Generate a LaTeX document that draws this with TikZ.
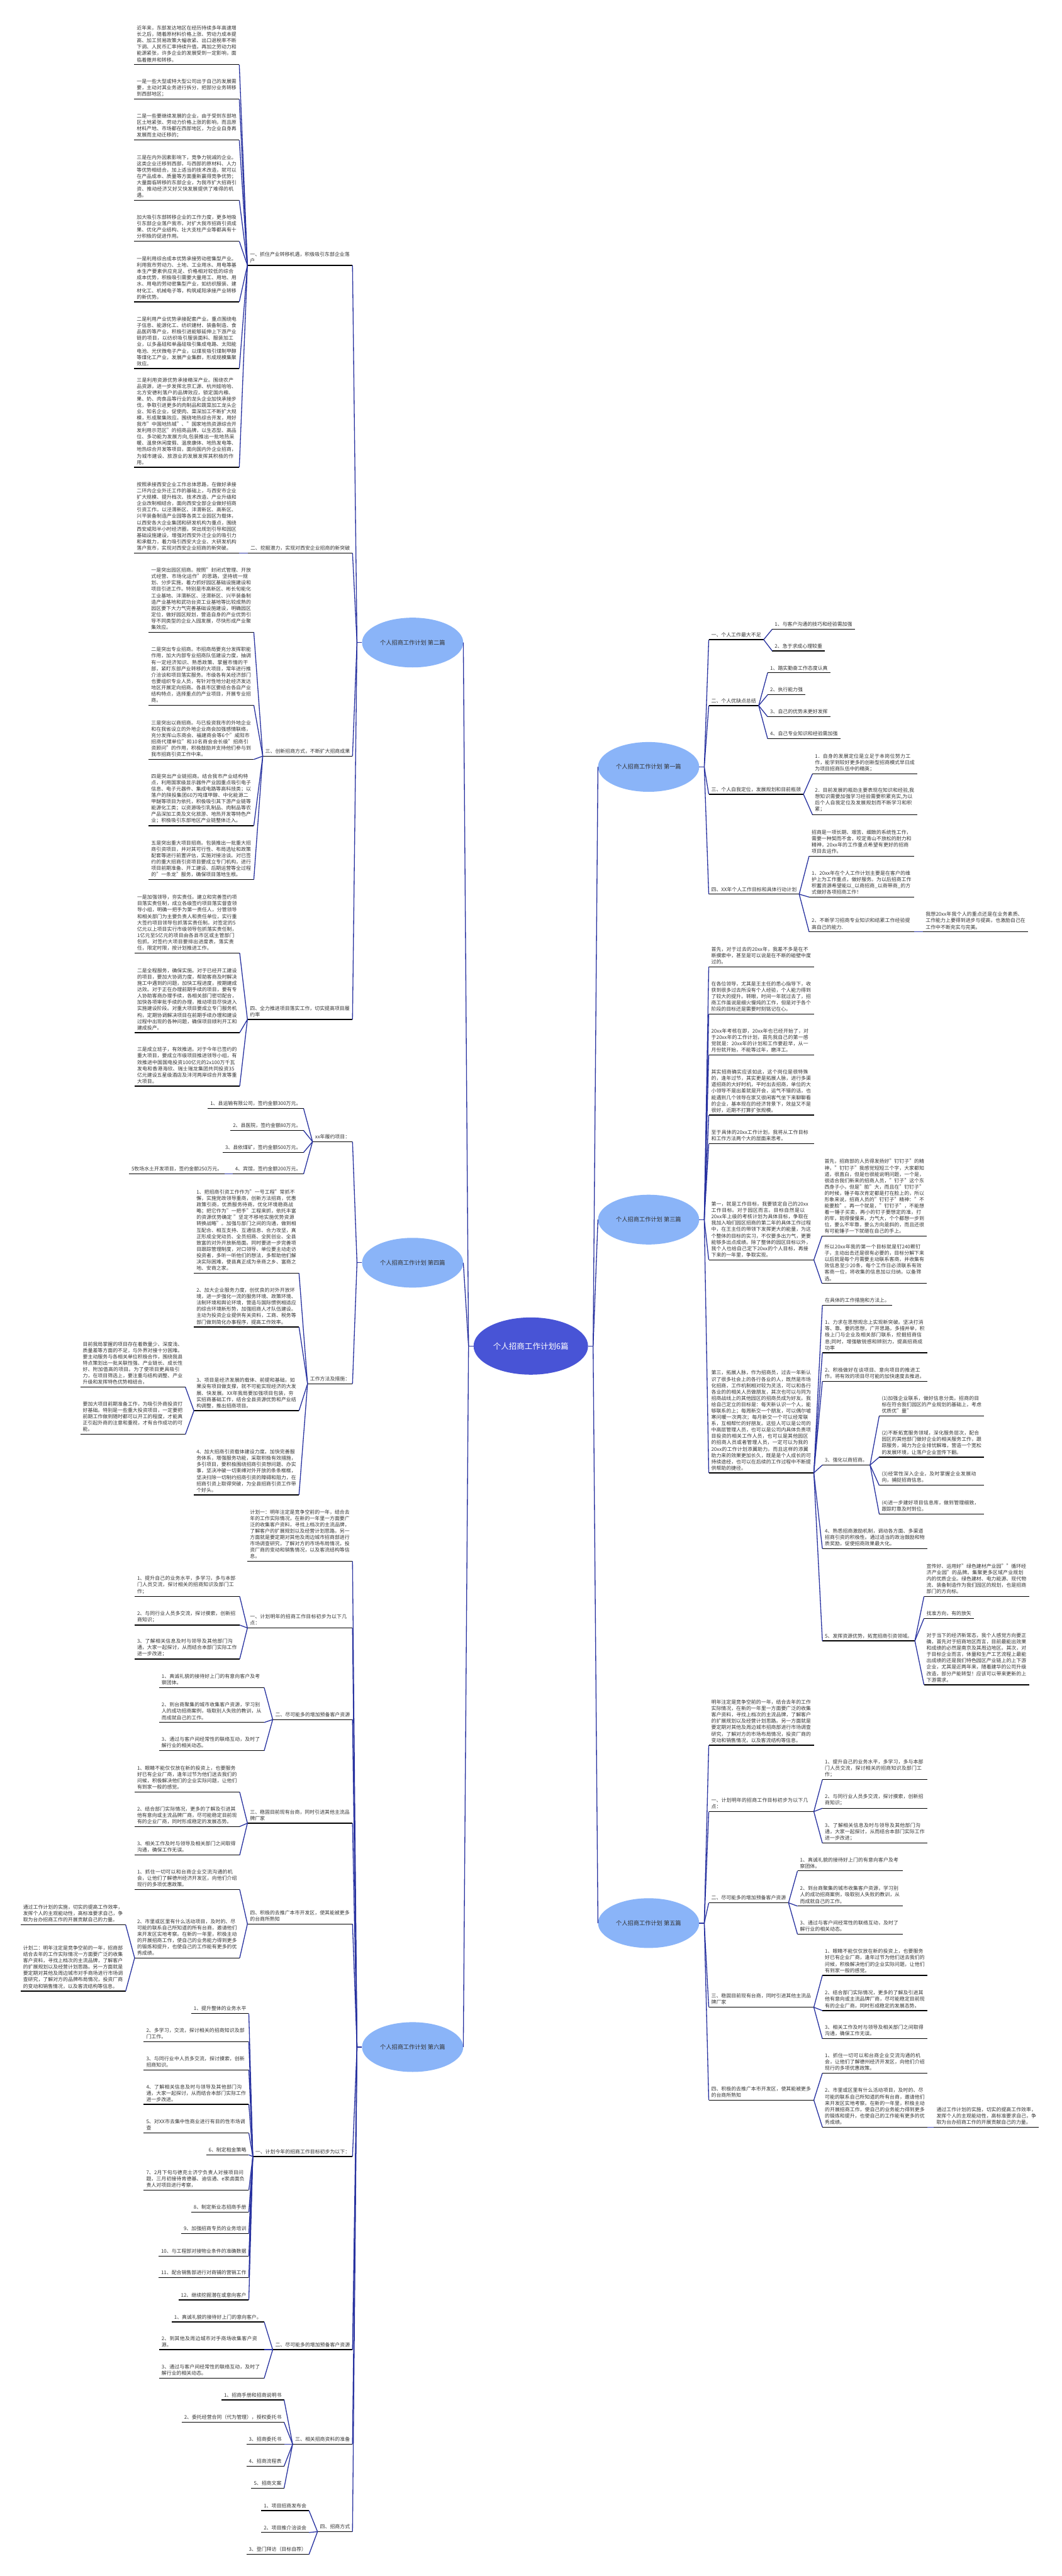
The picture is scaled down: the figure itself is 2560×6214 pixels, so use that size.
\documentclass[tikz,border=0pt]{standalone}
\usepackage{fontspec}
\setmainfont{Noto Sans CJK SC}
\XeTeXlinebreaklocale "zh"
\XeTeXlinebreakskip=0pt plus 1pt
\usetikzlibrary{shapes.geometric}

\definecolor{rootblue}{HTML}{4854D6}
\definecolor{partblue}{HTML}{8AB4F8}
\definecolor{linkblue}{HTML}{2832A0}
\definecolor{textgray}{HTML}{333333}

\tikzset{
  uline/.style={draw=black, line width=2pt},
  link/.style={draw=linkblue, line width=2pt},
  root/.style={ellipse, fill=rootblue, text=white, inner sep=0pt,
    minimum width=276pt, minimum height=138pt, font=\fontsize{19}{22}\selectfont},
  part/.style={ellipse, fill=partblue, text=textgray, inner sep=0pt,
    minimum width=244pt, minimum height=120pt, font=\fontsize{14}{17}\selectfont},
  tag/.style={inner xsep=6pt, inner ysep=6pt, text=textgray,
    font=\fontsize{12}{15.3}\selectfont,
    append after command={(\tikzlastnode.south west) edge[uline] (\tikzlastnode.south east)}},
  note/.style={tag, text width=241pt, align=left},
  lt/.style={anchor=south east},
  rt/.style={anchor=south west}
}

\begin{document}
\begin{tikzpicture}[x=1pt,y=-1pt]
\useasboundingbox (0,0) rectangle (2560,6214);
\fill[white] (0,0) rectangle (2560,6214);

% centre and the six parts
\node[root] (root) at (1280,3247) {个人招商工作计划6篇};
\node[part] (p2) at (995,1550) {个人招商工作计划 第二篇};
\node[part] (p4) at (995,3046) {个人招商工作计划 第四篇};
\node[part] (p6) at (995,4938) {个人招商工作计划 第六篇};
\node[part] (p1) at (1564,1850) {个人招商工作计划 第一篇};
\node[part] (p3) at (1564,2942) {个人招商工作计划 第三篇};
\node[part] (p5) at (1564,4639) {个人招商工作计划 第五篇};

% ---------- 第二篇 ----------
\node[note,lt] (p2a) at (850,640) {一、抓住产业转移机遇，积极吸引东部企业落户};
\node[note,lt] (p2a1) at (577,156) {近年来，东部发达地区在经历持续多年高速增长之后，随着原材料价格上涨、劳动力成本提高、加工贸易政策大幅收紧、出口退税率不断下调、人民币汇率持续升值，再加之劳动力和能源紧张，许多企业的发展受到一定影响，面临着撤并和转移。};
\node[note,lt] (p2a2) at (577,239) {一是一些大型或特大型公司出于自己的发展需要，主动对其业务进行拆分，把部分业务转移到西部地区；};
\node[note,lt] (p2a3) at (577,338) {二是一些要继续发展的企业，由于受到东部地区土地紧张、劳动力价格上涨的影响，而且原材料产地、市场都在西部地区，为企业自身再发展而主动迁移的；};
\node[note,lt] (p2a4) at (577,483) {三是在内外因素影响下，竞争力锐减的企业。这类企业迁移到西部，与西部的原材料、人力等优势相结合，加上适当的技术改造，就可以在产品成本、质量等方面重新赢得竞争优势；大量面临转移的东部企业，为我市扩大招商引资、推动经济又好又快发展提供了难得的机遇。};
\node[note,lt] (p2a5) at (577,582) {加大吸引东部转移企业的工作力度，更多地吸引东部企业落户我市，对扩大我市招商引资成果、优化产业结构、壮大支柱产业等都具有十分积极的促进作用。};
\node[note,lt] (p2a6) at (577,728) {一是利用综合成本优势承接劳动密集型产业。利用我市劳动力、土地、工业用水、用电等基本生产要素供应充足、价格相对较低的综合成本优势，积极吸引需要大量用工、用地、用水、用电的劳动密集型产业，如纺织服装、建材化工、机械电子等，构筑咸阳承接产业转移的新优势。};
\node[note,lt] (p2a7) at (577,889) {二是利用产业优势承接配套产业。重点围绕电子信息、能源化工、纺织建材、装备制造、食品医药等产业，积极引进能够延伸上下游产业链的项目，以纺织吸引服装面料、服装加工业，以多晶硅和单晶硅吸引集成电路、太阳能电池、光伏微电子产业，以煤炭吸引煤制甲醇等煤化工产业，发展产业集群，形成规模集聚效应。};
\node[note,lt] (p2a8) at (577,1127) {三是利用资源优势承接精深产业。围绕农产品资源，进一步发挥北京汇源、杭州娃哈哈、北方安德利落户的品牌效应，锁定国内粮、果、奶、肉食品等行业的龙头企业加快承接步伐，争取引进更多的肉制品和蔬菜加工龙头企业、知名企业，促使肉、菜深加工不断扩大规模，形成聚集效应。围绕地热综合开发，用好我市"中国地热城"、"国家地热资源综合开发利用示范区"的招商品牌，以生态型、高品位、多功能为发展方向,包装推出一批地热采暖、温泉休闲度假、温泉康体、地热发电等、地热综合开发等项目，面向国内外企业招商，为城市建设、旅游业的发展发挥其积极的作用。};
\node[tag,lt] (p2b) at (850,1334) {二、挖掘潜力，实现对西安企业招商的新突破};
\node[note,lt] (p2b1) at (577,1334) {按照承接西安企业工作总体思路，在做好承接二环内企业外迁工作的基础上，与西安市企业扩大规模、提升档次、技术改造、产业升级和企业改制相结合，面向西安全部企业做好招商引资工作。以泾渭新区、沣渭新区、高新区、兴平装备制造产业园等各类工业园区为载体，以西安各大企业集团和研发机构为重点，围绕西安咸阳半小时经济圈，突出规划引导和园区基础设施建设，增强对西安外迁企业的吸引力和承载力，着力吸引西安大企业、大研发机构落户我市，实现对西安企业招商的新突破。};
\node[tag,lt] (p2c) at (850,1824) {三、创新招商方式，不断扩大招商成果};
\node[note,lt] (p2c1) at (612,1525) {一是突出园区招商。按照"封闭式管理、开放式经营、市场化运作"的思路，坚持统一规划、分步实施，着力抓好园区基础设施建设和项目引进工作。特别是市高新区、彬长旬能化工业基地、沣渭新区、泾渭新区、兴平装备制造产业基地和武功台资工业基地等比较成熟的园区要下大力气完善基础设施建设，明确园区定位，做好园区规划，营造自身的产业优势引导不同类型的企业入园发展，尽快形成产业聚集效应。};
\node[note,lt] (p2c2) at (612,1701) {二是突出专业招商。市招商局要充分发挥职能作用，加大内部专业招商队伍建设力度，抽调有一定经济知识、熟悉政策、掌握市情的干部，紧盯东部产业转移的大项目，常年进行推介洽谈和项目落实服务。市级各有关经济部门也要组织专业人员，有针对性地分赴经济发达地区开展定向招商。各县市区要结合各自产业结构特点，选择重点的产业项目，开展专业招商。};
\node[note,lt] (p2c3) at (612,1832) {三是突出以商招商。与已投资我市的外地企业和在我省设立的外地企业商会加强感情联络，充分发挥山东商会、福建商会等6个"咸阳市招商代理单位"和10名商会会长级"招商引资顾问"的作用，积极鼓励并支持他们参与到我市招商引资工作中来。};
\node[note,lt] (p2c4) at (612,1992) {四是突出产业链招商。结合我市产业结构特点，利用国家级显示器件产业园重点吸引电子信息、电子元器件、集成电路等高科技类；以落户的陕投集团60万吨煤甲醇、中化能源二甲醚等项目为依托，积极吸引其下游产业链等能源化工类；以资源吸引乳制品、肉制品等农产品深加工类及文化旅游、地热开发等特色产业；积极吸引东部地区产业链整体迁入。};
\node[note,lt] (p2c5) at (612,2122) {五是突出重大项目招商。包装推出一批重大招商引资项目，并对其可行性、布局选址和政策配套等进行前置评估，实施对接洽谈。对已签约的重大招商引资项目要成立专门机构，进行项目前期准备、开工建设、后期运营等全过程的"一条龙"服务，确保项目落地生根。};
\node[note,lt] (p2d) at (850,2459) {四、全力推进项目落实工作，切实提高项目履约率};
\node[note,lt] (p2d1) at (578,2299) {一是加强领导，夯实责任。建立和完善签约项目落实责任制，成立各级签约项目落实督查领导小组，明确一把手为第一责任人，分管领导和相关部门为主要负责人和责任单位，实行重大签约项目领导包抓落实责任制。对签定的5亿元以上项目实行市级领导包抓落实责任制，1亿元至5亿元的项目由各县市区或主管部门包抓。对签约大项目要排出进度表，落实责任，限定时限，按计划推进工作。};
\node[note,lt] (p2d2) at (578,2491) {二是全程服务，确保实施。对于已经开工建设的项目，要加大协调力度，帮助客商及时解决施工中遇到的问题，加快工程进度，按期建成达效。对于正在办理前期手续的项目，要有专人协助客商办理手续，各相关部门密切配合，加快各项审批手续的办理，推动项目尽快进入实施建设阶段。对重大项目要成立专门服务机构，定期协调解决项目在前期手续办理和建设过程中出现的各种问题，确保项目顺利开工和建成投产。};
\node[note,lt] (p2d3) at (578,2620) {三是成立班子，有效推进。对于今年已签约的重大项目，要成立市级项目推进领导小组，有效推进中国国电投资100亿元的2x100万千瓦发电和香港海欣、瑞士瑞龙集团共同投资35亿元建设五星级酒店及沣河两岸综合开发等重大项目。};

% ---------- 第四篇 ----------
\node[tag,lt] (p4a) at (850,2754) {xx年履约项目：};
\node[tag,lt] (p4a1) at (732,2674) {1、县运输有限公司，签约金额300万元。};
\node[tag,lt] (p4a2) at (732,2727) {2、县医院，签约金额80万元。};
\node[tag,lt] (p4a3) at (732,2780) {3、县依煤矿，签约金额500万元。};
\node[tag,lt] (p4a4) at (732,2832) {4、宾馆，签约金额200万元。};
\node[tag,lt] (p4a4a) at (542,2832) {5牧场水土开发项目，签约金额250万元。};
\node[tag,lt] (p4b) at (850,3338) {工作方法及措施：};
\node[note,lt] (p4b1) at (721,3071) {1、把招商引资工作作为"一号工程"常抓不懈，实施党政领导重商，创新方法招商，优惠政策引商，优质服务待商，优化环境稳商战略；把它作为"一把手"工程来抓，依托丰富的资源优势确定 "坚定不移地实施优势资源转换战略"。加强与部门之间的沟通，做到相互配合、相互支持、互通信息、合力攻坚，真正形成全党动员、全员招商、全民创业、全县致富的对外开放新局面。同时要进一步完善项目跟踪管理制度，对口领导、单位要主动走访投资者，多听一听他们的想法，多帮助他们解决实际困难，使县真正成为亲商之乡、富商之地、安商之家。};
\node[note,lt] (p4b2) at (721,3201) {2、加大企业服务力度，创优良的对外开放环境，进一步强化一流的服务环境、政策环境、法制环境和舆论环境，营造与国际惯例相适应的综合环境新形势，加强招商人才队伍建设。 主动为投资企业提供有关资料，工商、税务等部门做到简化办事程序，提高工作效率。};
\node[note,lt] (p4b3) at (721,3403) {3、项目是经济发展的载体、前提和基础，如果没有项目做支撑，就不可能实现经济的大发展、快发展。XX年我局要加强项目包装，夯实招商基础工作，结合全县资源优势和产业结构调整，推出招商项目。};
\node[note,lt] (p4b3a) at (447,3346) {目前我局掌握的项目存在着数量少、深度浅、质量差等方面的不足，与外界对接十分困难。要主动服务与各相关单位积极合作，围绕我县特点策划出一批关联性强、产业链长、成长性好、附加值高的项目。为了使项目更具吸引力，在项目筛选上，要注重与结构调整、产业升级和发挥特色优势相结合。};
\node[note,lt] (p4b3b) at (447,3460) {要加大项目前期准备工作，为吸引外商投资打好基础。特别是一些重大投资项目，一定要把前期工作做到随时都可以开工的程度，才能真正引起外商的注意和重视，才有合作成功的可能。};
\node[note,lt] (p4b4) at (721,3606) {4、加大招商引资载体建设力度。加快完善服务体系，增强服务功能，采取积极有效措施，多引项目，要积极围绕招商引资想问题、办实事，坚决冲破一切束缚对外开放的条条框框，坚决扫除一切制约招商引资的障碍和阻力，在招商引资上取得突破，为全县招商引资工作带个好头。};

% ---------- 第六篇 ----------
\node[note,lt] (p6a) at (850,3766) {计划一：明年注定是竞争空前的一年，结合去年的工作实际情况，在新的一年里一方面要广泛的收集客户资料，寻找上档次的主流品牌，了解客户的扩展规划以及经营计划思路。另一方面就是要定期对其他及周边城市招商部进行市场调查研究，了解对方的市场布局情况，投资厂商的变动和销售情况，以及客流结构等信息。};
\node[note,lt] (p6b) at (850,3927) {一、计划明年的招商工作目标初步为以下几点：};
\node[note,lt] (p6b1) at (578,3851) {1、提升自己的业务水平，多学习，多与本部门人员交流，探讨相关的招商知识及部门工作；};
\node[note,lt] (p6b2) at (578,3920) {2、与同行业人员多交流，探讨摸索，创新招商知识；};
\node[note,lt] (p6b3) at (578,4002) {3、了解相关信息及时与领导及其他部门沟通，大家一起探讨，从而结合本部门实际工作进一步改进；};
\node[tag,lt] (p6c) at (850,4148) {二、尽可能多的增加预备客户资源};
\node[note,lt] (p6c1) at (637,4071) {1、真诚礼貌的接待好上门的有意向客户及考察团体。};
\node[note,lt] (p6c2) at (637,4155) {2、到台商聚集的城市收集客户资源，学习别人的成功招商案例，吸取别人失败的教训，从而成就自己的工作。};
\node[note,lt] (p6c3) at (637,4223) {3、通过与客户间经常性的联络互动，及时了解行业的相关动态。};
\node[note,lt] (p6d) at (850,4398) {三、稳固目前现有台商，同时引进其他主流品牌厂家};
\node[note,lt] (p6d1) at (578,4323) {1、眼睛不能仅仅放在新的投资上，也要服务好已有企业厂商，逢年过节为他们送去我们的问候，积极解决他们的企业实际问题，让他们有到家一般的感觉。};
\node[note,lt] (p6d2) at (578,4406) {2、结合部门实际情况，更多的了解及引进其他有意向或主流品牌厂商，尽可能稳定目前现有的企业厂商，同时形成稳定的发展态势。};
\node[note,lt] (p6d3) at (578,4475) {3、相关工作及时与领导及相关部门之间取得沟通，确保工作无误。};
\node[note,lt] (p6e) at (850,4641) {四、积极的去推广本市开发区，使其能被更多的台商所熟知};
\node[note,lt] (p6e1) at (578,4558) {1、抓住一切可以和台商企业交流沟通的机会，让他们了解德州经济开发区，向他们介绍现行的多项优惠政策。};
\node[note,lt] (p6e2) at (578,4723) {2、市里或区里有什么活动项目，及时的、尽可能的联系自己所知道的所有台商，邀请他们来开发区实地考察。在新的一年里，积极主动的开展招商工作，使自己的业务能力得到更多的锻炼和提升，也使自己的工作能有更多的优秀成绩。};
\node[note,lt] (p6e2a) at (303,4643) {通过工作计划的实施，切实的提高工作效率，发挥个人的主观能动性，高标准要求自己，争取为台办招商工作的开展贡献自己的力量。};
\node[note,lt] (p6e2b) at (303,4803) {计划二：明年注定是竞争空前的一年，招商部结合去年的工作实际情况一方面要广泛的收集客户资料，寻找上档次的主流品牌，了解客户的扩展规划以及经营计划思路。另一方面就是要定期对其他及周边城市对手商场进行市场调查研究，了解对方的品牌布局情况，投资厂商的变动和销售情况，以及客流结构等信息。};
\node[tag,lt] (p6f) at (850,5202) {一、计划今年的招商工作目标初步为以下：};
\node[tag,lt] (p6f1) at (600,4857) {1、提升整体的业务水平};
\node[note,lt] (p6f2) at (600,4925) {2、多学习，交流，探讨相关的招商知识及部门工作。};
\node[note,lt] (p6f3) at (600,4993) {3、与同行业中人员多交流，探讨摸索，创新招商知识。};
\node[note,lt] (p6f4) at (600,5076) {4、了解相关信息及时与领导及其他部门沟通，大家一起探讨，从而结合本部门实际工作进一步改进。};
\node[note,lt] (p6f5) at (600,5145) {5、对XX市去集中性商业进行有目的性市场调查};
\node[tag,lt] (p6f6) at (600,5198) {6、制定租金策略};
\node[note,lt] (p6f7) at (600,5283) {7、2月下旬与德克士济宁负责人对接项目问题，三月初接待肯德基、迪信通、e家卤面负责人对项目进行考察，};
\node[tag,lt] (p6f8) at (600,5336) {8、制定新业态招商手册};
\node[tag,lt] (p6f9) at (600,5388) {9、加强招商专员的业务培训};
\node[tag,lt] (p6f10) at (600,5442) {10、与工程部对接物业条件的准确数据};
\node[tag,lt] (p6f11) at (600,5494) {11、配合销售部进行对商铺的营销工作};
\node[tag,lt] (p6f12) at (600,5548) {12、继续挖掘潜在或意向客户};
\node[tag,lt] (p6g) at (850,5668) {二、尽可能多的增加预备客户资源};
\node[tag,lt] (p6g1) at (637,5601) {1、真诚礼貌的接待好上门的意向客户。};
\node[note,lt] (p6g2) at (637,5668) {2、到其他及周边城市对手商场收集客户资源。};
\node[note,lt] (p6g3) at (637,5737) {3、通过与客户间经常性的联络互动，及时了解行业的相关动态。};
\node[tag,lt] (p6h) at (850,5896) {三、相关招商资料的准备};
\node[tag,lt] (p6h1) at (685,5789) {1、招商手册和招商说明书};
\node[tag,lt] (p6h2) at (685,5843) {2、委托经营合同（代为管理），授权委托书};
\node[tag,lt] (p6h3) at (685,5896) {3、招商委托书};
\node[tag,lt] (p6h4) at (685,5949) {4、招商流程表};
\node[tag,lt] (p6h5) at (685,6002) {5、招商文案};
\node[tag,lt] (p6i) at (850,6107) {四、招商方式};
\node[tag,lt] (p6i1) at (745,6056) {1、项目招商发布会};
\node[tag,lt] (p6i2) at (745,6109) {2、项目推介洽谈会};
\node[tag,lt] (p6i3) at (745,6162) {3、登门拜访（目标自荐）};

% ---------- 第一篇 ----------
\node[tag,rt] (p1a) at (1709,1543) {一、个人工作最大不足};
\node[tag,rt] (p1a1) at (1862,1518) {1、与客户沟通的技巧和经验需加强};
\node[tag,rt] (p1a2) at (1862,1570) {2、急于求成心理较重};
\node[tag,rt] (p1b) at (1709,1702) {二、个人优缺点总结};
\node[tag,rt] (p1b1) at (1851,1623) {1、踏实勤奋工作态度认真};
\node[tag,rt] (p1b2) at (1851,1676) {2、执行能力强};
\node[tag,rt] (p1b3) at (1851,1729) {3、自己的优势未更好发挥};
\node[tag,rt] (p1b4) at (1851,1782) {4、自己专业知识和经验需加强};
\node[tag,rt] (p1c) at (1709,1916) {三、个人自我定位，发展规划和目前瓶颈};
\node[note,rt] (p1c1) at (1959,1867) {1．自身的发展定位是立足于本岗位努力工作，能学到较好更多的创新型招商模式早日成为项目招商队伍中的精英；};
\node[note,rt] (p1c2) at (1959,1965) {2．目前发展的瓶劲主要表现在知识和经验,我想知识需要加强学习经验需要积累充实,为以后个人自我定位及发展规划而不断学习和积累；};
\node[tag,rt] (p1d) at (1709,2157) {四、XX年个人工作目标和具体行动计划};
\node[note,rt] (p1d1) at (1951,2065) {招商是一项长期、艰苦、细致的系统性工作，需要一种契而不舍，咬定青山不放松的耐力和精神，20xx年的工作重点希望有更好的招商项目去运作。};
\node[note,rt] (p1d2) at (1951,2164) {1、20xx年在个人工作计划主要是在客户的维护上为工作重点，做好服务。为以后招商工作积蓄资源希望能以\_以商招商\_以商带商\_的方式做好各项招商工作！};
\node[note,rt] (p1d3) at (1951,2248) {2、不断学习招商专业知识和结累工作经验提高自己的能力.};
\node[note,rt] (p1d3a) at (2226,2248) {我想20xx年我个人的重点还是在业务素质、工作能力上要得到进步与提高，也激励自己在工作中不断充实与完美。};

% ---------- 第三篇 ----------
\node[note,rt] (p3a) at (1709,2332) {首先，对于过去的20xx年，我差不多是在不断摸索中，甚至是可以说是在不断的碰壁中度过的。};
\node[note,rt] (p3b) at (1709,2446) {在各位领导，尤其是王主任的悉心指导下，收获到很多过去所没有个人经验，个人能力得到了较大的提升。转眼，时间一年就过去了，招商工作虽说是细火慢炖的工作，但是对于各个阶段的目标还是需要时刻铭记在心。};
\node[note,rt] (p3c) at (1709,2545) {20xx年考核在即，20xx年也已经开始了，对于20xx年的工作计划，首先我自己的第一感觉就是：20xx年的计划和工作要趁早，从一月份就开始，不能等过年，磨洋工。};
\node[note,rt] (p3d) at (1709,2690) {其实招商确实应该如此，这个岗位是很特殊的，逢年过节，其实更是拓展人脉，进行多渠道招商的大好时机，平时出去招商，单位的大小领导不是出差就是开会，运气不错的话，也能遇到几个领导在家又很闲客气坐下来聊聊看的企业，基本现在的经济背景下，效益又不是很好，近期不打算扩张规模。};
\node[note,rt] (p3e) at (1709,2759) {至于具体的20xx工作计划，我将从工作目标和工作方法两个大的层面来思考。};
\node[note,rt] (p3f) at (1709,3039) {第一，就是工作目标，我要锁定自己的20xx工作目标。对于园区而言。目标自然是以20xx年上级的考核计划为具体目标，争取在我加入咱们园区招商的第二年的具体工作过程中，在王主任的带领下发挥更大的能量，为这个整体的目标的实习，不仅要多出力气，更要能够多出点成绩。除了整体的园区目标以外，我个人也给自己定下20xx的个人目标，再接下来的一年里，争取实现。};
\node[note,rt] (p3f1) at (1982,2982) {首先，招商部的人员得发扬好"钉钉子"的精神，"钉钉子"我感觉短短三个字，大家都知道，很直白，但是也很能说明问题，一个是，很适合我们新来的招商人员，"钉子"这个东西身子小，但是"脸"大，而且在"钉钉子"的时候，锤子每次肯定都是打在脸上的，所以形象来说，招商人员的"钉钉子"精神："不能要脸"。再一个就是，"钉钉子"，不能想着一锤子买卖，再小的钉子要想定的准，打的牢，就得慢慢来，力气大，个个都想一步到位，要么不牢靠，要么方向是斜的，而且还很有可能锤子一下就砸在自己的手上。};
\node[note,rt] (p3f2) at (1982,3096) {所以20xx年我的第一个目标就是钉240颗钉子，主动出击还是很有必要的，目标分解下来以后就是每个月需要主动联系客商，并收集有效信息至少20条，每个工作日必须联系有效客商一位，将收集的信息加以归纳，以备筛选。};
\node[note,rt] (p3g) at (1709,3553) {第三，拓展人脉，作为招商员，过去一年新认识了很多社会上的各行各业的人，既然是市场化招商，工作机制相对较为灵活，可以和各行各业的的相关人员做朋友，其次也可以与同为招商战线上的其他园区的招商员成为好友。我给自己定立的目标是：每天新认识一个人，能够联系的上；每周新交一个朋友，可以偶尔嘘寒问暖一次两次；每月新交一个可以经常联系，互相帮忙的好朋友。这些人可以是公司的中高层管理人员，也可以是公司内具体负责项目投资的相关工作人员，也可以是其他园区的招商人员或者管理人员，一定可以为我的20xx的工作计划添翼助力。而且这样的添翼助力来的效果更加长久，既是是个人成长的可持续途经，也可以在后续的工作过程中不断提供帮助的捷径。};
\node[tag,rt] (p3g1) at (1983,3149) {在具体的工作措施和方法上。};
\node[note,rt] (p3g2) at (1983,3263) {1、力求在思想观念上实现新突破。坚决打消等、靠、要的思想，广开思路，多措并举，积极上门与企业及相关部门联系，挖掘招商信息;同时，增强敏锐感和辨别力，提高招商成功率};
\node[note,rt] (p3g3) at (1983,3332) {2、积极做好在谈项目、意向项目的推进工作。将有效的项目尽可能的加快速度去推进。};
\node[tag,rt] (p3g4) at (1983,3534) {3、强化以商招商。};
\node[note,rt] (p3g4a) at (2120,3416) {(1)加强企业联系，做好信息分类。招商的目标在符合我们园区的产业规划的基础上，考虑优质优"量"};
\node[note,rt] (p3g4b) at (2120,3515) {(2)不断拓宽服务领域，深化服务层次，配合园区的其他部门做好企业的相关服务工作，跟踪服务，竭力为企业排忧解难，营造一个宽松的发展环境，让落户企业宣传下翻。};
\node[note,rt] (p3g4c) at (2120,3583) {(3)经常性深入企业，及时掌握企业发展动向，捕捉招商信息。};
\node[note,rt] (p3g4d) at (2120,3652) {(4)进一步建好项目信息库，做到管理细致，跟踪盯靠及时到位。};
\node[note,rt] (p3g5) at (1983,3736) {4、熟悉招商激励机制，调动各方面、多渠道招商引资的积极性。通过适当的政治鼓励和物质奖励，促使招商效果最大化。};
\node[tag,rt] (p3g6) at (1983,3958) {5、发挥资源优势，拓宽招商引资领域。};
\node[note,rt] (p3g6a) at (2228,3851) {宣传好、运用好"绿色建材产业园""循环经济产业园"的品牌。集聚更多区域产业规划内的优质企业。绿色建材、电力能源、现代物流、装备制造作为我们园区的规划，也是招商部门的方向标。};
\node[tag,rt] (p3g6b) at (2228,3904) {找准方向，有的放矢};
\node[note,rt] (p3g6c) at (2228,4064) {对于当下的经济新常态，我个人感觉方向要正确，首先对于招商地区而言，目前最能出效果和成绩的必然是南京及其周边地区。其次，对于目标企业而言，体量和生产工艺流程上最能出成绩的还是我们特色园区产业链上的上下游企业，尤其是近两年来，随着建华的公司升级改造，部分产能转型！应该可以带来更新的上下游需求。};

% ---------- 第五篇 ----------
\node[note,rt] (p5a) at (1709,4210) {明年注定是竞争空前的一年，结合去年的工作实际情况，在新的一年里一方面要广泛的收集客户资料，寻找上档次的主流品牌，了解客户的扩展规划以及经营计划思路。另一方面就是要定期对其他及周边城市招商部进行市场调查研究，了解对方的市场布局情况，投资厂商的变动和销售情况，以及客流结构等信息。};
\node[note,rt] (p5b) at (1709,4370) {一、计划明年的招商工作目标初步为以下几点：};
\node[note,rt] (p5b1) at (1983,4293) {1、提升自己的业务水平，多学习，多与本部门人员交流，探讨相关的招商知识及部门工作；};
\node[note,rt] (p5b2) at (1983,4362) {2、与同行业人员多交流，探讨摸索，创新招商知识；};
\node[note,rt] (p5b3) at (1983,4446) {3、了解相关信息及时与领导及其他部门沟通，大家一起探讨，从而结合本部门实际工作进一步改进；};
\node[tag,rt] (p5c) at (1709,4590) {二、尽可能多的增加预备客户资源};
\node[note,rt] (p5c1) at (1923,4513) {1、真诚礼貌的接待好上门的有意向客户及考察团体。};
\node[note,rt] (p5c2) at (1923,4598) {2、到台商聚集的城市收集客户资源，学习别人的成功招商案例，吸取别人失败的教训，从而成就自己的工作。};
\node[note,rt] (p5c3) at (1923,4666) {3、通过与客户间经常性的联络互动，及时了解行业的相关动态。};
\node[note,rt] (p5d) at (1709,4842) {三、稳固目前现有台商，同时引进其他主流品牌厂家};
\node[note,rt] (p5d1) at (1983,4765) {1、眼睛不能仅仅放在新的投资上，也要服务好已有企业厂商，逢年过节为他们送去我们的问候，积极解决他们的企业实际问题，让他们有到家一般的感觉。};
\node[note,rt] (p5d2) at (1983,4850) {2、结合部门实际情况，更多的了解及引进其他有意向或主流品牌厂商，尽可能稳定目前现有的企业厂商，同时形成稳定的发展态势。};
\node[note,rt] (p5d3) at (1983,4918) {3、相关工作及时与领导及相关部门之间取得沟通，确保工作无误。};
\node[note,rt] (p5e) at (1709,5066) {四、积极的去推广本市开发区，使其能被更多的台商所熟知};
\node[note,rt] (p5e1) at (1983,5001) {1、抓住一切可以和台商企业交流沟通的机会，让他们了解德州经济开发区，向他们介绍现行的多项优惠政策。};
\node[note,rt] (p5e2) at (1983,5131) {2、市里或区里有什么活动项目，及时的、尽可能的联系自己所知道的所有台商，邀请他们来开发区实地考察。在新的一年里，积极主动的开展招商工作，使自己的业务能力得到更多的锻炼和提升，也使自己的工作能有更多的优秀成绩。};
\node[note,rt] (p5e2a) at (2252,5131) {通过工作计划的实施，切实的提高工作效率，发挥个人的主观能动性，高标准要求自己，争取为台办招商工作的开展贡献自己的力量。};

% ---------- connectors ----------
\draw[link] (root.west) -- ++(-12,0) coordinate (rootl);
\draw[link] (root.east) -- ++(12,0) coordinate (rootr);
\foreach \c in {p2,p4,p6} \draw[link] (rootl) -- (\c.east);
\foreach \c in {p1,p3,p5} \draw[link] (rootr) -- (\c.west);

% left side: parts
\draw[link] (p2.west) -- ++(-12,0) coordinate (p2j);
\foreach \c in {p2a,p2b,p2c,p2d} \draw[link] (p2j) -- (\c.south east);
\draw[link] (p4.west) -- ++(-12,0) coordinate (p4j);
\foreach \c in {p4a,p4b} \draw[link] (p4j) -- (\c.south east);
\draw[link] (p6.west) -- ++(-12,0) coordinate (p6j);
\foreach \c in {p6a,p6b,p6c,p6d,p6e,p6f,p6g,p6h,p6i} \draw[link] (p6j) -- (\c.south east);

% left side: items
\foreach \p/\list in {p2a/{p2a1,p2a2,p2a3,p2a4,p2a5,p2a6,p2a7,p2a8}, p2b/{p2b1},
    p2c/{p2c1,p2c2,p2c3,p2c4,p2c5}, p2d/{p2d1,p2d2,p2d3},
    p4a/{p4a1,p4a2,p4a3,p4a4}, p4a4/{p4a4a}, p4b/{p4b1,p4b2,p4b3,p4b4}, p4b3/{p4b3a,p4b3b},
    p6b/{p6b1,p6b2,p6b3}, p6c/{p6c1,p6c2,p6c3}, p6d/{p6d1,p6d2,p6d3},
    p6e/{p6e1,p6e2}, p6e2/{p6e2a,p6e2b},
    p6f/{p6f1,p6f2,p6f3,p6f4,p6f5,p6f6,p6f7,p6f8,p6f9,p6f10,p6f11,p6f12},
    p6g/{p6g1,p6g2,p6g3}, p6h/{p6h1,p6h2,p6h3,p6h4,p6h5}, p6i/{p6i1,p6i2,p6i3}}
  \foreach \c in \list \draw[link] (\p.south west) -- (\c.south east);

% right side: parts
\draw[link] (p1.east) -- ++(12,0) coordinate (p1j);
\foreach \c in {p1a,p1b,p1c,p1d} \draw[link] (p1j) -- (\c.south west);
\draw[link] (p3.east) -- ++(12,0) coordinate (p3j);
\foreach \c in {p3a,p3b,p3c,p3d,p3e,p3f,p3g} \draw[link] (p3j) -- (\c.south west);
\draw[link] (p5.east) -- ++(12,0) coordinate (p5j);
\foreach \c in {p5a,p5b,p5c,p5d,p5e} \draw[link] (p5j) -- (\c.south west);

% right side: items
\foreach \p/\list in {p1a/{p1a1,p1a2}, p1b/{p1b1,p1b2,p1b3,p1b4}, p1c/{p1c1,p1c2},
    p1d/{p1d1,p1d2,p1d3}, p1d3/{p1d3a},
    p3f/{p3f1,p3f2}, p3g/{p3g1,p3g2,p3g3,p3g4,p3g5,p3g6},
    p3g4/{p3g4a,p3g4b,p3g4c,p3g4d}, p3g6/{p3g6a,p3g6b,p3g6c},
    p5b/{p5b1,p5b2,p5b3}, p5c/{p5c1,p5c2,p5c3}, p5d/{p5d1,p5d2,p5d3},
    p5e/{p5e1,p5e2}, p5e2/{p5e2a}}
  \foreach \c in \list \draw[link] (\p.south east) -- (\c.south west);
\end{tikzpicture}
\end{document}
